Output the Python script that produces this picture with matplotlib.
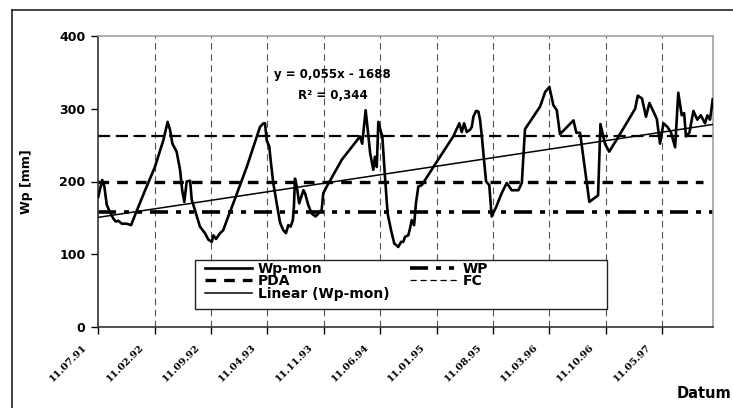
import numpy as np
import pandas as pd
import matplotlib.pyplot as plt
from matplotlib.lines import Line2D
from matplotlib.patches import Rectangle
from matplotlib.transforms import ScaledTranslation

# Wp-mon series: x = Excel date serial, y = Wp [mm]
days = [33431, 33446, 33454, 33463, 33475, 33488, 33497, 33507, 33520, 33538,
        33555, 33570, 33608, 33645, 33677, 33693, 33702, 33711, 33727, 33740,
        33748, 33756, 33765, 33778, 33784, 33796, 33809, 33815, 33834, 33847,
        33860, 33866, 33876, 33891, 33903, 33922, 33941, 33992, 34042, 34055,
        34061, 34067, 34077, 34082, 34092, 34105, 34118, 34130, 34140, 34149,
        34158, 34166, 34170, 34174, 34181, 34190, 34206, 34212, 34224, 34237,
        34252, 34262, 34275, 34281, 34294, 34351, 34420, 34428, 34441, 34449,
        34458, 34470, 34476, 34483, 34489, 34499, 34504, 34514, 34524, 34537,
        34549, 34564, 34575, 34583, 34590, 34602, 34609, 34615, 34624, 34631,
        34640, 34653, 34697, 34772, 34795, 34804, 34813, 34823, 34835, 34842,
        34848, 34858, 34867, 34873, 34880, 34888, 34896, 34908, 34917, 34934,
        34955, 34974, 34993, 35018, 35031, 35043, 35100, 35119, 35135, 35150,
        35163, 35175, 35226, 35237, 35251, 35286, 35319, 35328, 35345, 35361,
        35390, 35459, 35469, 35485, 35500, 35513, 35541, 35553, 35566, 35581,
        35594, 35610, 35622, 35635, 35644, 35651, 35664, 35679, 35694, 35707,
        35723, 35732, 35742, 35752]
wp_mon = [179, 202, 193, 168, 158, 149, 145, 146, 142, 142,
          140, 154, 188, 220, 257, 282, 271, 252, 241, 216,
          188, 172, 200, 201, 175, 161, 145, 138, 129, 120,
          117, 126, 121, 129, 133, 152, 170, 220, 275, 280,
          280, 257, 248, 230, 198, 170, 143, 133, 129, 140,
          138, 147, 165, 204, 193, 170, 188, 184, 168, 156,
          152, 156, 161, 184, 193, 230, 262, 252, 298, 271,
          239, 216, 234, 220, 282, 268, 262, 207, 156, 133,
          115, 110, 117, 117, 124, 126, 136, 147, 140, 170,
          193, 195, 220, 262, 280, 268, 280, 268, 271, 275,
          289, 297, 296, 285, 262, 230, 200, 195, 152, 165,
          184, 198, 188, 188, 198, 272, 303, 323, 330, 305,
          298, 265, 284, 267, 267, 172, 181, 279, 252, 241,
          258, 300, 318, 314, 289, 308, 286, 252, 280, 275,
          268, 247, 322, 291, 294, 262, 267, 297, 285, 291,
          280, 291, 285, 313]

# constant levels
FC = 263
PDA = 200
WP = 158
pda_end = 35716  # PDA line stops a bit before the axis end

# trend line from the chart label y = 0,055x - 1688
slope = 0.055
intercept = -1688

tick_dates = ["1991-07-11", "1992-02-11", "1992-09-11", "1993-04-11", "1993-11-11",
              "1994-06-11", "1995-01-11", "1995-08-11", "1996-03-11", "1996-10-11",
              "1997-05-11"]
tick_labels = ["11.07.91", "11.02.92", "11.09.92", "11.04.93", "11.11.93",
               "11.06.94", "11.01.95", "11.08.95", "11.03.96", "11.10.96",
               "11.05.97"]

excel0 = pd.Timestamp("1899-12-30")
ticks = [(pd.Timestamp(d) - excel0).days for d in tick_dates]
x0, x1 = ticks[0], days[-1]

W, H = 733, 408
fig = plt.figure(figsize=(W / 100, H / 100), dpi=100)
ax = fig.add_axes([98 / W, 1 - 327 / H, (712.7 - 98) / W, (327 - 36) / H])

# outer chart border (cut at right/bottom)
fig.add_artist(Line2D([12 / W, 12 / W], [-0.1, 1 - 10 / H], transform=fig.transFigure, color="#222", lw=1.2))
fig.add_artist(Line2D([12 / W, 1.1], [1 - 10 / H, 1 - 10 / H], transform=fig.transFigure, color="#222", lw=1.2))

ax.set_xlim(x0, x1)
ax.set_ylim(0, 400)

for t in ticks[1:]:
    ax.axvline(t, color="#555", lw=0.8, ls=(0, (6, 4)), zorder=1)

l_fc, = ax.plot([x0, x1], [FC, FC], color="black", lw=1.6, ls=(0, (5.5, 2.5)), zorder=2)
l_pda, = ax.plot([x0, pda_end], [PDA, PDA], color="black", lw=2.4, ls=(0, (3.2, 2.4)), zorder=2)
l_wp, = ax.plot([x0, x1], [WP, WP], color="black", lw=2.6, ls=(0, (5, 2.2, 1.4, 2.2, 1.4, 2.2)), zorder=2)
xt = np.array([x0, x1])
l_lin, = ax.plot(xt, slope * xt + intercept, color="black", lw=1.1, zorder=3)
l_wpm, = ax.plot(days, wp_mon, color="black", lw=1.9, zorder=4)

bold = {"family": "DejaVu Sans", "weight": "bold"}

ax.set_yticks([0, 100, 200, 300, 400])
ax.set_yticklabels(["0", "100", "200", "300", "400"], fontdict={**bold, "size": 9})
ax.set_xticks(ticks)
ax.set_xticklabels([])
shift = ScaledTranslation(-13 / 100, -19 / 100, fig.dpi_scale_trans)
for t, lab in zip(ticks, tick_labels):
    ax.text(t, 0, lab, transform=ax.get_xaxis_transform() + shift, rotation=45,
            ha="right", va="center", rotation_mode="anchor", clip_on=False,
            fontdict={"family": "DejaVu Serif", "weight": "bold", "size": 7.2})
ax.tick_params(axis="y", direction="out", length=5, width=1, pad=4)
ax.tick_params(axis="x", direction="out", length=5, width=1)

for s in ["left", "bottom"]:
    ax.spines[s].set_color("#333")
    ax.spines[s].set_linewidth(1.2)
for s in ["top", "right"]:
    ax.spines[s].set_color("#a0a0a0")
    ax.spines[s].set_linewidth(1.2)

fig.text(27 / W, 1 - 182 / H, "Wp [mm]", rotation=90, ha="center", va="center", fontdict={**bold, "size": 9})
fig.text(731 / W, 1 - 394 / H, "Datum", ha="right", va="center", fontdict={**bold, "size": 10.5})

ax.text(0.382, 0.869, "y = 0,055x - 1688", transform=ax.transAxes, ha="center", va="center",
        fontdict={**bold, "size": 8.5})
ax.text(0.382, 0.797, "R² = 0,344", transform=ax.transAxes, ha="center", va="center",
        fontdict={**bold, "size": 8.5})

# legend box
ax.add_patch(Rectangle((0.157, 0.061), 0.8286 - 0.157, 0.230 - 0.061, transform=ax.transAxes,
                       facecolor="white", edgecolor="#222", lw=1.0, zorder=5))
h_fc = Line2D([], [], color="black", lw=0.9, ls=(0, (5, 3)))
leg = ax.legend([l_wpm, l_pda, l_lin, l_wp, h_fc],
                ["Wp-mon", "PDA", "Linear (Wp-mon)", "WP", "FC"],
                ncol=2, frameon=False, loc="upper left", bbox_to_anchor=(0.174, 0.225),
                borderaxespad=0, borderpad=0, labelspacing=-0.1, handlelength=3.4,
                handletextpad=0.4, columnspacing=1.5, prop={**bold, "size": 10})
leg.set_zorder(6)

fig.savefig("out.png", dpi=100)
